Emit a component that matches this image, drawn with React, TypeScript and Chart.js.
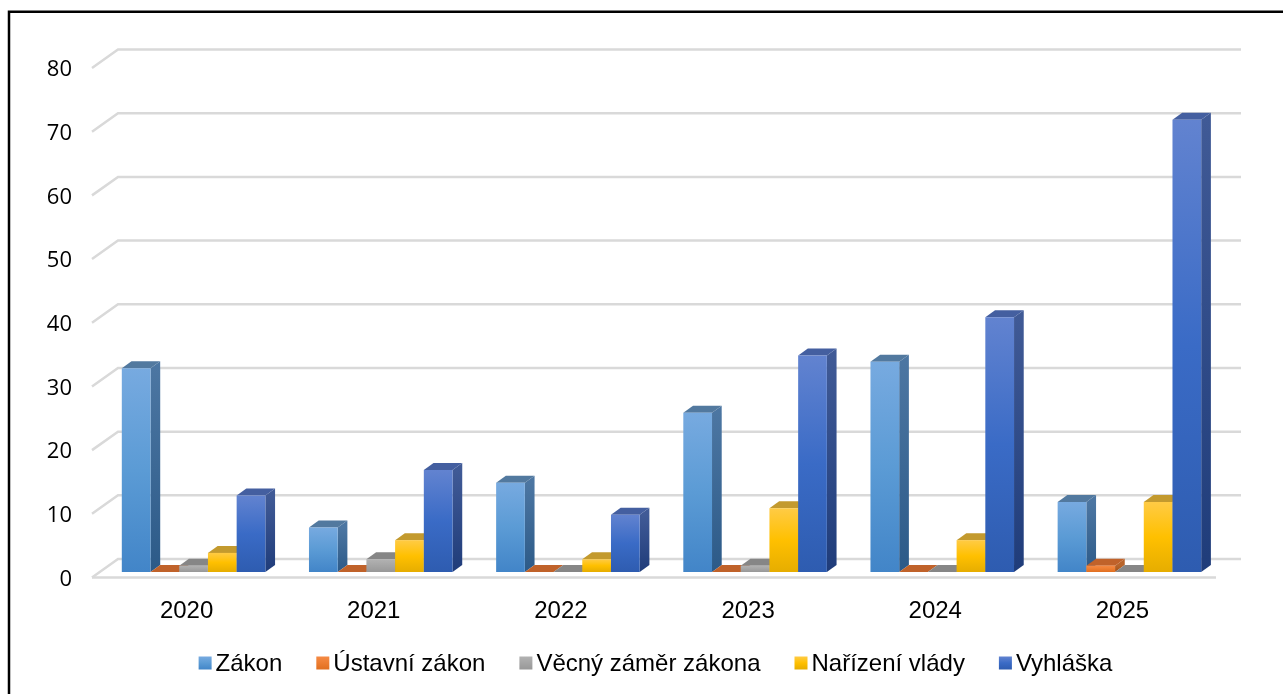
import React, { useEffect, useRef } from "react";
import { Chart, registerables } from "chart.js";

Chart.register(...registerables);

const years = ["2020", "2021", "2022", "2023", "2024", "2025"];
const seriesNames = ["Zákon", "Ústavní zákon", "Věcný záměr zákona", "Nařízení vlády", "Vyhláška"];
const zakon = [32, 7, 14, 25, 33, 11];
const ustavni = [0, 0, 0, 0, 0, 1];
const vecny = [1, 2, 0, 1, 0, 0];
const narizeni = [3, 5, 2, 10, 5, 11];
const vyhlaska = [12, 16, 9, 34, 40, 71];
const seriesValues = [zakon, ustavni, vecny, narizeni, vyhlaska];

// front gradient stops, side gradient stops, top face
const frontTop = ["#77AAE0", "#F58A45", "#B2B2B2", "#FFCB45", "#6283D0"];
const frontMid = ["#5B9BD5", "#ED7D31", "#A5A5A5", "#FFC000", "#3A6BC6"];
const frontBottom = ["#4285C8", "#E06F20", "#989898", "#E6AD00", "#2E5CB0"];
const sideTop = ["#4C76A2", "#B8642A", "#7F7F7F", "#B8922A", "#405A96"];
const sideBottom = ["#2C5A88", "#A05018", "#6A6A6A", "#A07E10", "#1F3C7A"];
const topFace = ["#52799F", "#C0622A", "#868686", "#C39A2E", "#445FA0"];

const BAR_SHIFT_X = 8;
const BAR_SHIFT_Y = -5.5;
const DEPTH_X = 9.7;
const DEPTH_Y = -7;
const WALL_X = 26;
const WALL_Y = -18.5;
const GRID = "#D9D9D9";
const LEGEND_SHIFT_X = 48;
const LEGEND_SHIFT_Y = -7.5;

function vGrad(ctx: CanvasRenderingContext2D, y0: number, y1: number, stops: string[]) {
  const g = ctx.createLinearGradient(0, y0, 0, y1 === y0 ? y0 + 1 : y1);
  stops.forEach((c, i) => g.addColorStop(i / (stops.length - 1), c));
  return g;
}

function poly(ctx: CanvasRenderingContext2D, pts: number[][], fill: any) {
  ctx.beginPath();
  pts.forEach((p, i) => (i ? ctx.lineTo(p[0], p[1]) : ctx.moveTo(p[0], p[1])));
  ctx.closePath();
  ctx.fillStyle = fill;
  ctx.fill();
}

const scenePlugin = {
  id: "scene3d",
  afterLayout(chart: any) {
    const legend = chart.legend;
    legend.left += LEGEND_SHIFT_X;
    legend.right += LEGEND_SHIFT_X;
    legend.top += LEGEND_SHIFT_Y;
    legend.bottom += LEGEND_SHIFT_Y;
    legend.legendHitBoxes.forEach((box: any) => {
      box.left += LEGEND_SHIFT_X;
    });
  },
  beforeDatasetsDraw(chart: any) {
    const { ctx, chartArea, scales } = chart;
    const { left, right, bottom } = chartArea;
    ctx.save();
    ctx.strokeStyle = GRID;
    ctx.lineWidth = 2.5;
    scales.y.ticks.forEach((t: any) => {
      const y = scales.y.getPixelForValue(t.value);
      ctx.beginPath();
      ctx.moveTo(left, y);
      ctx.lineTo(left + WALL_X, y + WALL_Y);
      ctx.lineTo(right + WALL_X, y + WALL_Y);
      ctx.stroke();
    });
    ctx.beginPath();
    ctx.moveTo(left, bottom);
    ctx.lineTo(right + 1, bottom);
    ctx.stroke();

    ctx.translate(BAR_SHIFT_X, BAR_SHIFT_Y);
    chart.data.datasets.forEach((_: any, i: number) => {
      const meta = chart.getDatasetMeta(i);
      meta.data.forEach((bar: any) => {
        const l = bar.x - bar.width / 2;
        const r = bar.x + bar.width / 2;
        const y = bar.y;
        const b = bar.base;
        if (b - y > 0.5) {
          poly(
            ctx,
            [[r, y], [r + DEPTH_X, y + DEPTH_Y], [r + DEPTH_X, b + DEPTH_Y], [r, b]],
            vGrad(ctx, y, b, [sideTop[i], sideBottom[i]])
          );
        }
        poly(ctx, [[l, y], [l + DEPTH_X, y + DEPTH_Y], [r + DEPTH_X, y + DEPTH_Y], [r, y]], topFace[i]);
        bar.draw(ctx, chartArea);
      });
    });
    ctx.restore();
    return false;
  },
  afterDraw(chart: any) {
    const { ctx, legend } = chart;
    ctx.save();
    const y = legend.bottom - 23 - 6.5;
    legend.legendHitBoxes.forEach((box: any, i: number) => {
      ctx.fillStyle = vGrad(ctx, y, y + 13, [frontTop[i], frontMid[i], frontBottom[i]]);
      ctx.fillRect(box.left, y, 13, 13);
    });
    ctx.strokeStyle = "#000000";
    ctx.lineWidth = 2.5;
    ctx.beginPath();
    ctx.moveTo(9, 694);
    ctx.lineTo(9, 11.7);
    ctx.lineTo(1283, 11.7);
    ctx.stroke();
    ctx.restore();
  },
};

export default function App() {
  const ref = useRef<HTMLCanvasElement>(null);
  useEffect(() => {
    document.body.style.margin = "0";
    const chart = new Chart(ref.current as HTMLCanvasElement, {
      type: "bar",
      plugins: [scenePlugin],
      data: {
        labels: years,
        datasets: seriesNames.map((name, i) => ({
          label: name,
          data: seriesValues[i],
          categoryPercentage: 0.767,
          barPercentage: 1,
          minBarLength: 0,
          borderWidth: 0,
          backgroundColor: (c: any) => {
            const yScale = c.chart.scales.y;
            const v = c.parsed ? c.parsed.y : 0;
            return vGrad(c.chart.ctx, yScale.getPixelForValue(v), yScale.getPixelForValue(0), [
              frontTop[i],
              frontMid[i],
              frontBottom[i],
            ]);
          },
        })),
      },
      options: {
        responsive: false,
        animation: false,
        layout: { padding: { left: 0, right: 68, top: 68, bottom: 0.5 } },
        plugins: {
          tooltip: { enabled: false },
          title: { display: false },
          legend: {
            position: "bottom",
            labels: {
              boxWidth: 5,
              boxHeight: 13,
              padding: 34,
              color: "#000000",
              font: { family: "'Liberation Sans'", size: 24 },
              generateLabels: (chart: any) =>
                chart.data.datasets.map((d: any, i: number) => ({
                  text: d.label,
                  fillStyle: "rgba(0,0,0,0)",
                  strokeStyle: "rgba(0,0,0,0)",
                  lineWidth: 0,
                  datasetIndex: i,
                })),
            },
          },
        },
        scales: {
          x: {
            grid: { display: false },
            border: { display: false },
            ticks: {
              color: "#000000",
              padding: 11,
              labelOffset: 1,
              maxRotation: 0,
              font: { family: "'Liberation Sans'", size: 24 },
            },
            afterFit: (s: any) => {
              s.height = 48;
            },
          },
          y: {
            min: 0,
            max: 80,
            grid: { display: false },
            border: { display: false },
            ticks: {
              stepSize: 10,
              color: "#000000",
              padding: 12,
              labelOffset: 2,
              font: { family: "'Open Sans'", size: 22 },
            },
            afterFit: (s: any) => {
              s.width = 92;
            },
          },
        },
      },
    } as any);
    return () => chart.destroy();
  }, []);
  return (
    <canvas
      ref={ref}
      width={1283}
      height={694}
      style={{ position: "absolute", left: 0, top: 0, width: 1283, height: 694, background: "#fff" }}
    />
  );
}
